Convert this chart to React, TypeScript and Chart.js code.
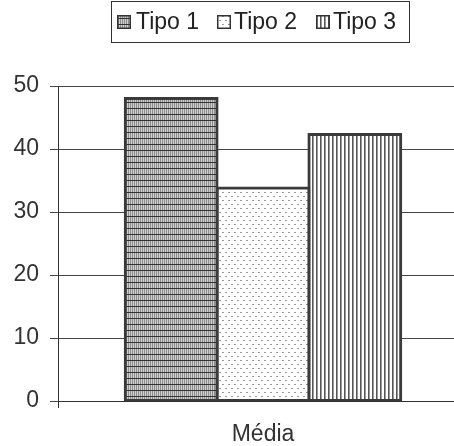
import React, { useEffect, useRef } from "react";
import { Chart, registerables } from "chart.js";

Chart.register(...registerables);

const categories = ["Média"];
const seriesNames = ["Tipo 1", "Tipo 2", "Tipo 3"];
const tipo1 = [48.0];
const tipo2 = [33.8];
const tipo3 = [42.3];
const yTicks = [0, 10, 20, 30, 40, 50];

const FONT = "'Liberation Sans', Arial, sans-serif";

function makePattern(kind: number): CanvasPattern | string {
  const c = document.createElement("canvas");
  const ctx = c.getContext("2d")!;
  if (kind === 0) {
    c.width = 2; c.height = 6;
    ctx.fillStyle = "#fff"; ctx.fillRect(0, 0, 2, 6);
    ctx.fillStyle = "#8c8c8c"; ctx.fillRect(0, 0, 1, 6);
    ctx.fillStyle = "#d0d0d0"; ctx.fillRect(1, 0, 1, 6);
    ctx.fillStyle = "#333"; ctx.fillRect(0, 0, 2, 1);
  } else if (kind === 1) {
    c.width = 6; c.height = 8;
    ctx.fillStyle = "#fff"; ctx.fillRect(0, 0, 6, 8);
    ctx.fillStyle = "#9a9a9a";
    ctx.fillRect(0, 0, 2, 1);
    ctx.fillRect(3, 4, 2, 1);
  } else {
    c.width = 4; c.height = 1;
    ctx.fillStyle = "#fff"; ctx.fillRect(0, 0, 4, 1);
    ctx.fillStyle = "#555"; ctx.fillRect(0, 0, 1, 1);
    ctx.fillStyle = "#999"; ctx.fillRect(1, 0, 1, 1);
  }
  const main = document.createElement("canvas").getContext("2d")!;
  return main.createPattern(c, "repeat") || "#999";
}

export default function App() {
  const ref = useRef<HTMLCanvasElement>(null);
  useEffect(() => {
    const patterns = [0, 1, 2].map(makePattern);
    const legendPlugin = {
      id: "boxLegend",
      afterDraw(chart: any) {
        const ctx = chart.ctx as CanvasRenderingContext2D;
        ctx.save();
        ctx.strokeStyle = "#333";
        ctx.lineWidth = 1;
        ctx.strokeRect(111.5, 1.5, 298, 41);
        const swX = [117, 217, 316];
        const txX = [136, 234, 333];
        ctx.font = `23px ${FONT}`;
        ctx.textBaseline = "middle";
        ctx.textAlign = "left";
        seriesNames.forEach((name, i) => {
          ctx.fillStyle = patterns[i] as any;
          ctx.fillRect(swX[i], 15, 14, 14);
          ctx.strokeStyle = "#333";
          ctx.lineWidth = 1.5;
          ctx.strokeRect(swX[i] + 0.75, 15.75, 12.5, 12.5);
          ctx.fillStyle = "#222";
          ctx.fillText(name, txX[i], 23);
        });
        ctx.restore();
      },
    };
    const data = [tipo1, tipo2, tipo3];
    const chart = new Chart(ref.current!, {
      type: "bar",
      data: {
        labels: categories,
        datasets: seriesNames.map((n, i) => ({
          label: n,
          data: data[i],
          backgroundColor: patterns[i] as any,
          borderColor: "#3a3a3a",
          borderWidth: 3,
          borderSkipped: false,
          inflateAmount: 1.5,
          barPercentage: 1,
          categoryPercentage: 0.672,
        })),
      },
      options: {
        animation: false,
        responsive: true,
        maintainAspectRatio: false,
        layout: { padding: { top: 86, right: 0, bottom: 0, left: 0 } },
        plugins: { legend: { display: false }, tooltip: { enabled: false } },
        scales: {
          x: {
            grid: { display: true, drawOnChartArea: false, drawTicks: true, tickLength: 7, color: "#333", offset: true },
            border: { display: true, color: "#333", width: 1 },
            ticks: { color: "#333", font: { family: FONT, size: 23 }, padding: 13 },
            afterFit: (s: any) => { s.height = 45; },
          },
          y: {
            min: 0,
            max: 50,
            afterBuildTicks: (s: any) => { s.ticks = yTicks.map((v) => ({ value: v })); },
            grid: { color: "#444", tickLength: 8, drawTicks: true },
            border: { display: true, color: "#333", width: 1 },
            ticks: { color: "#333", font: { family: FONT, size: 23 }, padding: 11 },
            afterFit: (s: any) => { s.width = 58; },
          },
        },
      },
      plugins: [legendPlugin],
    });
    return () => chart.destroy();
  }, []);
  return (
    <div style={{ position: "fixed", left: 0, top: 0, width: 454, height: 446, overflow: "hidden", background: "#fff" }}>
      <div style={{ position: "relative", width: 468, height: 446 }}>
        <canvas ref={ref} />
      </div>
    </div>
  );
}
